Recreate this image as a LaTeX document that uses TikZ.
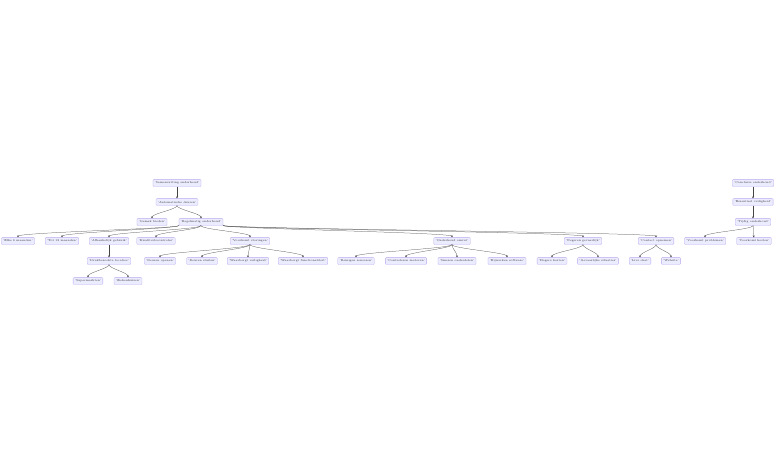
\documentclass[tikz,border=0pt]{standalone}
\usepackage[svgnames]{xcolor}
\usepackage{tikz}
\usetikzlibrary{arrows.meta}
\definecolor{mmfill}{HTML}{ECECFF}
\definecolor{mmborder}{HTML}{B9A7EE}
\definecolor{mmline}{HTML}{444444}
\tikzstyle{box} = [draw=mmborder, fill=mmfill, line width=0.3pt, rounded corners=0.8pt, inner xsep=1.8pt, inner ysep=1.2pt, minimum height=6.8pt, text=black!80, font=\fontsize{2.85}{3.2}\selectfont]
\tikzstyle{edge} = [draw=mmline, line width=0.25pt, -{Stealth[length=2pt,width=2pt]}]

\begin{document}
\begin{tikzpicture}[x=1pt,y=-1pt]
\useasboundingbox (0,0) rectangle (784,464);
% linker boom
\node[box] (samenvatting) at (177,183) {'Samenvatting onderhoud'};
\node[box] (automatisch) at (177,202) {'Automatische deuren'};
\node[box] (gemak) at (152,222) {'Gemak bieden'};
\node[box] (regelmatig) at (201,222) {'Regelmatig onderhoud'};
\node[box] (elke) at (18,241) {'Elke 6 maanden'};
\node[box] (tot) at (62,241) {'Tot 12 maanden'};
\node[box] (afhankelijk) at (109,241) {'Afhankelijk gebruik'};
\node[box] (kwaliteit) at (156,241) {'Kwaliteitscontroles'};
\node[box] (voorkomt) at (250,241) {'Voorkomt storingen'};
\node[box] (omvat) at (452,241) {'Onderhoud omvat'};
\node[box] (negeren) at (583,241) {'Negeren gevaarlijk'};
\node[box] (contact) at (656,241) {'Contact opnemen'};
\node[box] (drukbezocht) at (109,261) {'Drukbezochte locaties'};
\node[box] (supermarkt) at (88,281) {'Supermarkten'};
\node[box] (ziekenhuis) at (128,281) {'Ziekenhuizen'};
\node[box] (openen) at (160,261) {'Deuren openen'};
\node[box] (sluiten) at (202,261) {'Deuren sluiten'};
\node[box] (veilig) at (248,261) {'Waarborgt veiligheid'};
\node[box] (functie) at (303,261) {'Waarborgt functionaliteit'};
\node[box] (reinigen) at (356,261) {'Reinigen sensoren'};
\node[box] (motoren) at (406,261) {'Controleren motoren'};
\node[box] (smeren) at (457,261) {'Smeren onderdelen'};
\node[box] (software) at (507,261) {'Bijwerken software'};
\node[box] (kosten) at (552,261) {'Hogere kosten'};
\node[box] (gevaar) at (598,261) {'Gevaarlijke situaties'};
\node[box] (chat) at (640,261) {'Live chat'};
\node[box] (website) at (671,261) {'Website'};
% rechter boom
\node[box] (conclusie) at (753,183) {'Conclusie onderhoud'};
\node[box] (essentieel) at (753,202) {'Essentieel veiligheid'};
\node[box] (tijdig) at (753,222) {'Tijdig onderhoud'};
\node[box] (problemen) at (705,241) {'Voorkomt problemen'};
\node[box] (voorkomtkosten) at (754,241) {'Voorkomt kosten'};

\draw[edge] (samenvatting) -- (automatisch);
\draw[edge] (automatisch.south) .. controls +(0,4) and +(0,-5) .. (gemak.north);
\draw[edge] (automatisch.south) .. controls +(0,4) and +(0,-5) .. (regelmatig.north);
\draw[edge] (regelmatig.south west) .. controls +(0,3) and +(0,-5) .. (elke.north);
\draw[edge] (regelmatig.south west) .. controls +(0,3) and +(0,-5) .. (tot.north);
\draw[edge] (regelmatig.south) .. controls +(0,4) and +(0,-5) .. (afhankelijk.north);
\draw[edge] (regelmatig.south) .. controls +(0,4) and +(0,-5) .. (kwaliteit.north);
\draw[edge] (regelmatig.south) .. controls +(0,4) and +(0,-5) .. (voorkomt.north);
\draw[edge] (regelmatig.south east) .. controls +(0,3) and +(0,-5) .. (omvat.north);
\draw[edge] (regelmatig.south east) .. controls +(0,3) and +(0,-5) .. (negeren.north);
\draw[edge] (regelmatig.south east) .. controls +(0,3) and +(0,-5) .. (contact.north);
\draw[edge] (afhankelijk) -- (drukbezocht);
\draw[edge] (drukbezocht.south) .. controls +(0,4) and +(0,-5) .. (supermarkt.north);
\draw[edge] (drukbezocht.south) .. controls +(0,4) and +(0,-5) .. (ziekenhuis.north);
\draw[edge] (voorkomt.south) .. controls +(0,4) and +(0,-5) .. (openen.north);
\draw[edge] (voorkomt.south) .. controls +(0,4) and +(0,-5) .. (sluiten.north);
\draw[edge] (voorkomt.south) .. controls +(0,4) and +(0,-5) .. (veilig.north);
\draw[edge] (voorkomt.south) .. controls +(0,4) and +(0,-5) .. (functie.north);
\draw[edge] (omvat.south) .. controls +(0,4) and +(0,-5) .. (reinigen.north);
\draw[edge] (omvat.south) .. controls +(0,4) and +(0,-5) .. (motoren.north);
\draw[edge] (omvat.south) .. controls +(0,4) and +(0,-5) .. (smeren.north);
\draw[edge] (omvat.south) .. controls +(0,4) and +(0,-5) .. (software.north);
\draw[edge] (negeren.south) .. controls +(0,4) and +(0,-5) .. (kosten.north);
\draw[edge] (negeren.south) .. controls +(0,4) and +(0,-5) .. (gevaar.north);
\draw[edge] (contact.south) .. controls +(0,4) and +(0,-5) .. (chat.north);
\draw[edge] (contact.south) .. controls +(0,4) and +(0,-5) .. (website.north);
\draw[edge] (conclusie) -- (essentieel);
\draw[edge] (essentieel) -- (tijdig);
\draw[edge] (tijdig.south) .. controls +(0,4) and +(0,-5) .. (problemen.north);
\draw[edge] (tijdig) -- (voorkomtkosten);
\end{tikzpicture}
\end{document}
